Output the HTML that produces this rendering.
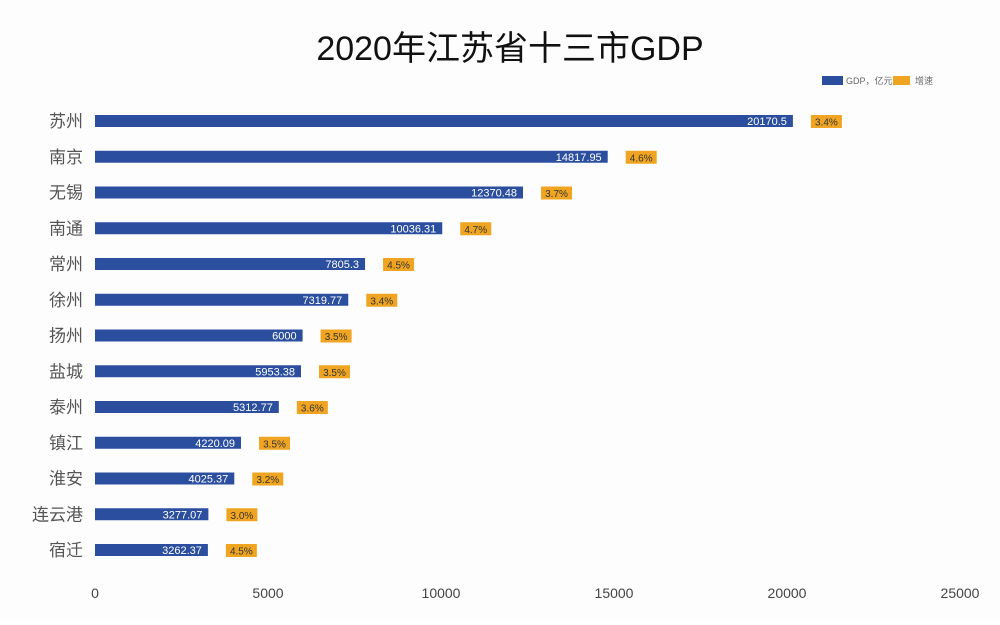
<!DOCTYPE html>
<html><head><meta charset="utf-8"><style>
body{margin:0;background:#fff;}
svg text{font-family:"Liberation Sans","Noto Sans CJK SC",sans-serif;}
</style></head><body>
<svg width="1000" height="620" viewBox="0 0 1000 620">
<rect width="1000" height="620" fill="#fdfdfd"/>
<text x="510" y="60" text-anchor="middle" font-size="34" fill="#111" style="font-family:'Liberation Sans','Noto Sans CJK SC',sans-serif">2020年江苏省十三市GDP</text>
<g>
<rect x="822" y="76" width="21" height="9" fill="#2b4f9e"/>
<text x="846" y="84" font-size="9" fill="#666">GDP，亿元</text>
<rect x="893" y="76" width="17" height="9" fill="#f0a522"/>
<text x="915" y="84" font-size="9" fill="#666">增速</text>
</g>
<g id="plot"></g>
<g id="xaxis"></g>
</svg>
<script>
const cities=["苏州","南京","无锡","南通","常州","徐州","扬州","盐城","泰州","镇江","淮安","连云港","宿迁"];
const gdp=[20170.5,14817.95,12370.48,10036.31,7805.3,7319.77,6000,5953.38,5312.77,4220.09,4025.37,3277.07,3262.37];
const gdpLabels=["20170.5","14817.95","12370.48","10036.31","7805.3","7319.77","6000","5953.38","5312.77","4220.09","4025.37","3277.07","3262.37"];
const growth=["3.4%","4.6%","3.7%","4.7%","4.5%","3.4%","3.5%","3.5%","3.6%","3.5%","3.2%","3.0%","4.5%"];
const xTicks=[0,5000,10000,15000,20000,25000];
const NS="http://www.w3.org/2000/svg";
const x=v=>95+v*(960-95)/25000;
const y=i=>121+i*35.75;
function mk(t,a,p){const e=document.createElementNS(NS,t);for(const k in a)e.setAttribute(k,a[k]);p.appendChild(e);return e;}
const plot=document.getElementById('plot'),xa=document.getElementById('xaxis');
cities.forEach((c,i)=>{
  const cy=y(i);
  const lab=mk('text',{x:83,y:cy+6,'text-anchor':'end','font-size':17,fill:'#555'},plot);lab.textContent=c;
  
  
  const b=mk('rect',{x:x(0),y:cy-6,width:x(gdp[i])-x(0),height:12,fill:'#2b4f9e'},plot);
  
  
  const v=mk('text',{x:x(gdp[i])-6,y:cy+4,'text-anchor':'end','font-size':11,fill:'#fff'},plot);v.textContent=gdpLabels[i];
  
  
  const gx=x(gdp[i])+18;
  const o=mk('rect',{x:gx,y:cy-6,width:31,height:13,fill:'#f0a522'},plot);
  
  
  const g=mk('text',{x:gx+15.5,y:cy+4.5,'text-anchor':'middle','font-size':10,fill:'#333'},plot);g.textContent=growth[i];
  
  
});
xTicks.forEach(t=>{
  const e=mk('text',{x:x(t),y:598,'text-anchor':'middle','font-size':14,fill:'#444'},xa);e.textContent=t;
  
  
});
</script>
</body></html>
